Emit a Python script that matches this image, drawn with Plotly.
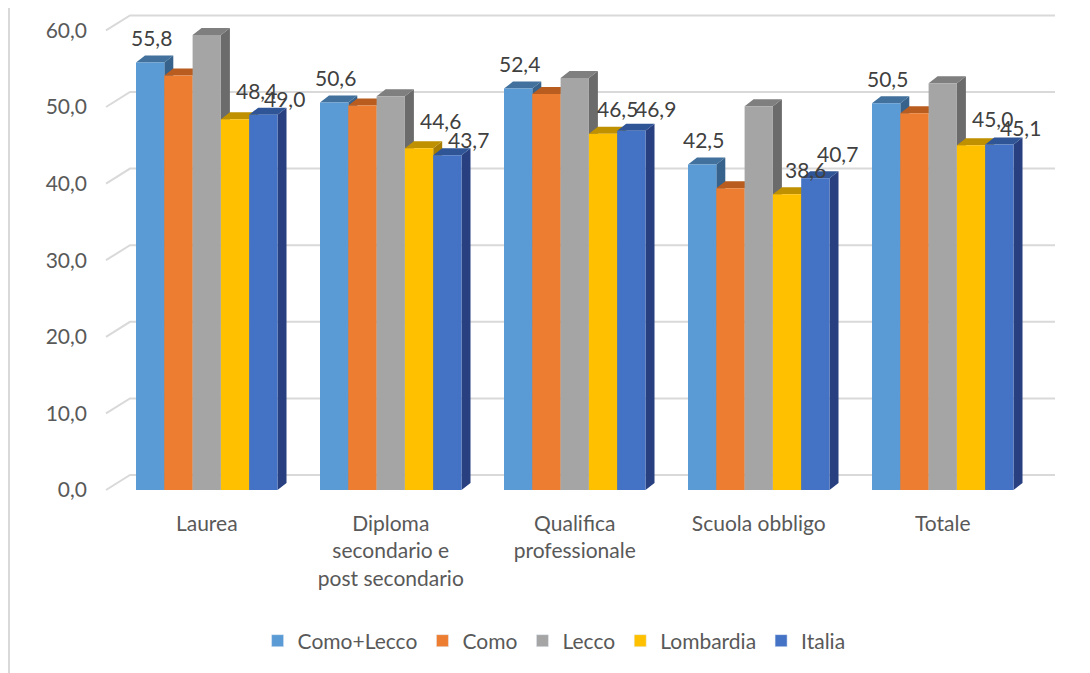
import plotly.graph_objects as go

categories = ["Laurea", "Diploma<br>secondario e<br>post secondario", "Qualifica<br>professionale", "Scuola obbligo", "Totale"]
series_names = ["Como+Lecco", "Como", "Lecco", "Lombardia", "Italia"]
como_lecco = [55.8, 50.6, 52.4, 42.5, 50.5]
como = [54.1, 50.2, 51.7, 39.4, 49.2]
lecco = [59.4, 51.4, 53.8, 50.1, 53.1]
lombardia = [48.4, 44.6, 46.5, 38.6, 45.0]
italia = [49.0, 43.7, 46.9, 40.7, 45.1]
y_ticks = [0, 10, 20, 30, 40, 50, 60]
labelled = [True, False, False, True, True]

values = [como_lecco, como, lecco, lombardia, italia]
front_colors = ["#5B9BD5", "#ED7D31", "#A5A5A5", "#FFC000", "#4472C4"]
top_colors = ["#41719C", "#B85D1F", "#7F7F7F", "#BF9000", "#2F5597"]
side_colors = ["#36628C", "#A5511A", "#6B6B6B", "#A67D00", "#283F80"]

# page offset: browser body has an 8px margin
OFF = 8
W, H = 1090 - OFF, 673 - OFF
ML = 100 - OFF          # plot area left at page x=100
PW = 960                # plot width
MT = 0                  # plot area top at page y=8
PH = 492                # plot area bottom at page y=500

# geometry (data units)
PX_X = 184.0           # px per category
PX_Y = 7.66            # px per y unit
bw = 28.3 / PX_X       # bar width
ddx = 9 / PX_X         # depth x
ddy = 7 / PX_Y         # depth y
xmin = -(106.75 / PX_X)
xmax = xmin + PW / PX_X
ymin = -10 / PX_Y
ymax = (PH - 10) / PX_Y

FONT = "Lato"
fig = go.Figure()

# back-wall gridlines
gx, gy = [], []
gl_x0 = xmin + 6 / PX_X
gdx = 24 / PX_X
gdy = 15 / PX_Y
gl_x1 = xmin + 955 / PX_X
for t in y_ticks:
    gx += [gl_x0, gl_x0 + gdx, gl_x1, None]
    gy += [t, t + gdy, t + gdy, None]
fig.add_trace(go.Scatter(x=gx, y=gy, mode="lines", line=dict(color="#D9D9D9", width=2),
                         hoverinfo="skip", showlegend=False))

# 3D-like bars
for i, (name, vals) in enumerate(zip(series_names, values)):
    sx, sy, tx, ty, fx, fy = [], [], [], [], [], []
    for j, v in enumerate(vals):
        xl = j + (i - 2) * bw - bw / 2
        xr = xl + bw
        sx += [xr, xr + ddx, xr + ddx, xr, xr, None]
        sy += [0, ddy, v + ddy, v, 0, None]
        tx += [xl, xr, xr + ddx, xl + ddx, xl, None]
        ty += [v, v, v + ddy, v + ddy, v, None]
        fx += [xl, xr, xr, xl, xl, None]
        fy += [0, 0, v, v, 0, None]
    for px_, py_, col in ((sx, sy, side_colors[i]), (tx, ty, top_colors[i]), (fx, fy, front_colors[i])):
        fig.add_trace(go.Scatter(x=px_, y=py_, mode="lines", fill="toself", fillcolor=col,
                                 line=dict(width=0, color=col), hoverinfo="skip", showlegend=False))
    fig.add_trace(go.Bar(x=[None], y=[None], name=name, marker_color=front_colors[i], showlegend=True))

# data labels (label offsets, px, per series and category)
xshifts = {0: [1, 1, 1, 1, 1], 3: [21, 21, 14, 18, 21], 4: [21, 21, 24, 22, 21]}
yshifts = {0: [25, 25, 25, 25, 25], 3: [29, 28, 25, 25, 27], 4: [16, 16, 22, 25, 17]}
for i, vals in enumerate(values):
    if not labelled[i]:
        continue
    for j, v in enumerate(vals):
        fig.add_annotation(x=j + (i - 2) * bw, y=v, text=f"{v:.1f}".replace(".", ","),
                           showarrow=False, xshift=xshifts[i][j], yshift=yshifts[i][j],
                           font=dict(family=FONT, size=21, color="#404040"))

# left border
fig.add_shape(type="line", xref="paper", yref="paper",
              x0=(1 - ML) / PW, x1=(1 - ML) / PW, y0=-(H - PH) / PH, y1=1,
              line=dict(color="#D9D9D9", width=2))

fig.update_layout(
    width=W, height=H,
    margin=dict(l=ML, r=W - ML - PW, t=MT, b=H - PH - MT, autoexpand=False),
    paper_bgcolor="white", plot_bgcolor="white",
    separators=",.",
    font=dict(family=FONT, size=21, color="#595959"),
    xaxis=dict(range=[xmin, xmax], tickvals=list(range(len(categories))), ticktext=categories,
               showgrid=False, zeroline=False, showline=False, ticks="",
               tickfont=dict(family=FONT, size=21, color="#595959"), ticklabelstandoff=9),
    yaxis=dict(range=[ymin, ymax], tickvals=y_ticks, tickformat=".1f", showgrid=False,
               zeroline=False, showline=False, ticks="",
               tickfont=dict(family=FONT, size=21, color="#595959"), ticklabelstandoff=12),
    legend=dict(orientation="h", x=0.473, xanchor="center", y=-141 / PH, yanchor="middle",
                font=dict(family=FONT, size=21, color="#595959"), itemwidth=30,
                traceorder="normal"),
    showlegend=True,
)

fig.write_html("out.html")
